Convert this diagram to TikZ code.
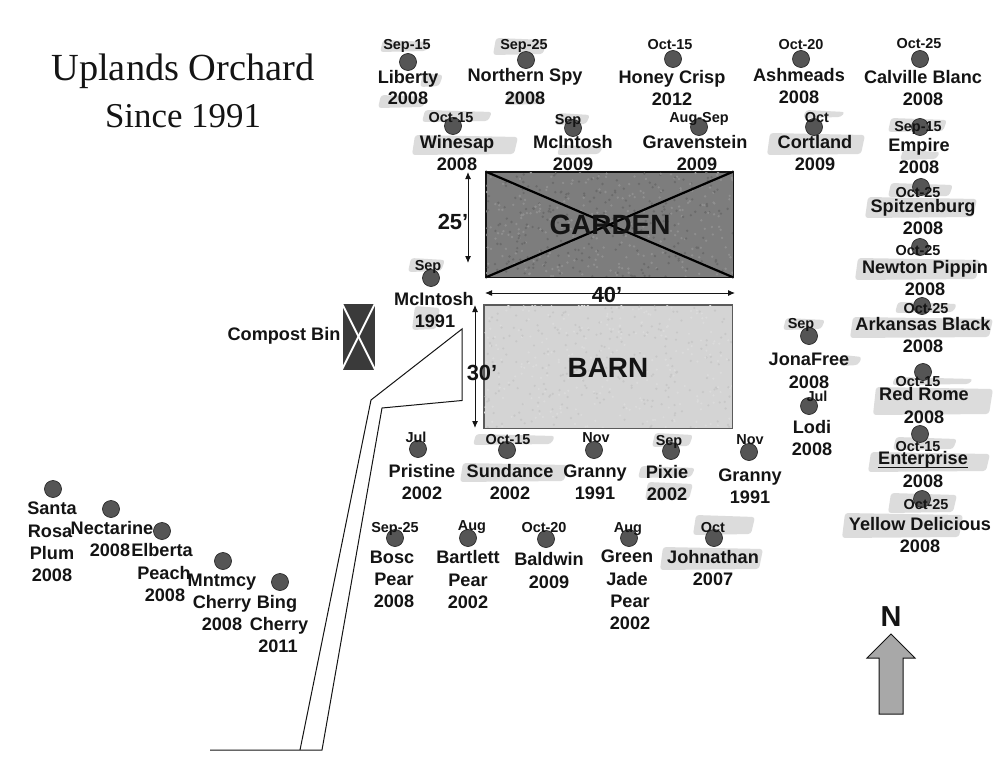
\documentclass[tikz,border=0pt]{standalone}
\usepackage{fontspec}
\setmainfont{Liberation Sans}
\newfontfamily\titlefont{Liberation Serif}
\usetikzlibrary{arrows.meta}
\definecolor{dotfill}{HTML}{555555}
\definecolor{dotline}{HTML}{2A2A2A}
\definecolor{ink}{HTML}{141414}
\definecolor{smudge}{HTML}{DCDCDC}
\definecolor{gardenfill}{HTML}{7D7D7D}
\definecolor{barnfill}{HTML}{D4D4D4}
\definecolor{binfill}{HTML}{3A3A3A}
\definecolor{northfill}{HTML}{A8A8A8}
\tikzset{
  treedot/.style={circle,draw=dotline,fill=dotfill,line width=0.7bp,minimum size=17bp,inner sep=0},
  datelabel/.style={font=\fontsize{14.5}{14.5}\selectfont\bfseries,text=ink,inner sep=0,text height=10.4bp,text depth=0bp},
  namelabel/.style={font=\fontsize{18.2}{18.2}\selectfont\bfseries,text=ink,inner sep=0,text height=13bp,text depth=0bp},
  biglabel/.style={font=\fontsize{28}{28}\selectfont\bfseries,text=ink,inner sep=0},
  northlabel/.style={font=\fontsize{29}{29}\selectfont\bfseries,text=ink,inner sep=0},
  dimlabel/.style={font=\fontsize{22}{22}\selectfont\bfseries,text=ink,inner sep=0},
  titlelabel/.style={font=\fontsize{38.5}{38.5}\selectfont\titlefont,text=ink,inner sep=0},
  subtitlelabel/.style={font=\fontsize{35}{35}\selectfont\titlefont,text=ink,inner sep=0},
  dimline/.style={draw=ink,line width=1bp,{Latex[length=7bp,width=6bp]}-{Latex[length=7bp,width=6bp]}},
  outline/.style={draw=ink,line width=1bp},
}
% \tree{id}{dot x}{dot y}{date x}{date y}{date}
\newcommand{\tree}[6]{%
  \node[treedot] (#1-dot) at (#2,#3) {};
  \node[datelabel] (#1-date) at (#4,#5) {#6};}
% \lab{id}{x}{y}{text}
\newcommand{\lab}[4]{\node[namelabel] (#1) at (#2,#3) {#4};}
\newcommand{\smear}[4]{\fill[smudge,rounded corners=3bp] (#1+3,#2) -- (#3,#2+2) -- (#3-4,#4-1) -- (#1,#4) -- cycle;}
\begin{document}
\begin{tikzpicture}[x=1bp,y=-1bp]
\useasboundingbox (0,0) rectangle (999,768);
\fill[white] (0,0) rectangle (999,768);

% smudges
\smear{380}{40}{430}{52}
\smear{493}{38}{547}{55}
\smear{420}{73}{443}{87}
\smear{378}{95}{427}{108}
\smear{505}{93}{545}{105}
\smear{422}{110}{492}{122}
\smear{412}{135}{518}{155}
\smear{555}{113}{590}{125}
\smear{557}{145}{603}{155}
\smear{803}{110}{845}{118}
\smear{767}{133}{865}{155}
\smear{888}{118}{947}{132}
\smear{900}{150}{940}{160}
\smear{888}{183}{953}{197}
\smear{865}{197}{977}{218}
\smear{855}{258}{980}{280}
\smear{895}{302}{957}{313}
\smear{850}{317}{993}{338}
\smear{783}{318}{825}{330}
\smear{840}{355}{862}{366}
\smear{892}{377}{973}{385}
\smear{873}{387}{993}{415}
\smear{893}{437}{957}{450}
\smear{868}{452}{990}{472}
\smear{888}{493}{957}{513}
\smear{842}{513}{963}{538}
\smear{473}{434}{555}{445}
\smear{460}{463}{568}{482}
\smear{652}{433}{693}{447}
\smear{638}{466}{695}{478}
\smear{645}{482}{693}{500}
\smear{693}{515}{755}{535}
\smear{660}{547}{763}{570}
\smear{408}{258}{445}{272}
\smear{412}{306}{440}{330}

% garden
\node[draw=ink,fill=gardenfill,line width=1bp,minimum width=247bp,minimum height=105bp,inner sep=0] (garden) at (609.5,224.5) {};
\begin{scope}
  \clip (garden.north west) rectangle (garden.south east);
  \pgfmathsetseed{7}
  \foreach \i in {1,...,500}{
    \pgfmathsetmacro{\px}{486+247*rnd}
    \pgfmathsetmacro{\py}{172+105*rnd}
    \pgfmathsetmacro{\pg}{rnd<0.5 ? 44 : 58}
    \fill[black!\pg] (\px,\py) circle[radius=1.3bp];
  }
\end{scope}
\draw[line width=2.2bp,black] (garden.north west) -- (garden.south east);
\draw[line width=2.2bp,black] (garden.north east) -- (garden.south west);
\draw[ink,line width=1bp] (garden.north west) rectangle (garden.south east);
\node[biglabel] (gardentext) at (610,225) {GARDEN};

% barn
\node[draw=ink!70,fill=barnfill,line width=1bp,minimum width=248bp,minimum height=123bp,inner sep=0] (barn) at (608,366.5) {};
\begin{scope}
  \clip (barn.north west) rectangle (barn.south east);
  \pgfmathsetseed{11}
  \foreach \i in {1,...,500}{
    \pgfmathsetmacro{\px}{484+248*rnd}
    \pgfmathsetmacro{\py}{305+123*rnd}
    \pgfmathsetmacro{\pg}{rnd<0.5 ? 14 : 22}
    \fill[black!\pg] (\px,\py) circle[radius=1.2bp];
  }
\end{scope}
\draw[ink!70,line width=1bp] (barn.north west) rectangle (barn.south east);
\node[biglabel] (barntext) at (608,368) {BARN};

% dimensions
\coordinate (d25a) at (468,172);
\coordinate (d25b) at (468,263);
\draw[dimline] (d25a) -- (d25b);
\node[dimlabel] (t25) at (453,222) {25’};
\coordinate (d40a) at (485,293);
\coordinate (d40b) at (735,293);
\draw[dimline] (d40a) -- (d40b);
\node[dimlabel] (t40) at (607,295) {40’};
\coordinate (d30a) at (475,305);
\coordinate (d30b) at (475,428);
\draw[dimline] (d30a) -- (d30b);
\node[dimlabel] (t30) at (482,373) {30’};

% compost bin
\node[draw=white,fill=binfill,line width=1bp,minimum width=33bp,minimum height=67bp,inner sep=0] (bin) at (358.5,336.5) {};
\draw[white,line width=1.8bp] (bin.north west) -- (bin.south east);
\draw[white,line width=1.8bp] (bin.north east) -- (bin.south west);
\node[namelabel] (bintext) at (284,334) {Compost Bin};

% driveway
\coordinate (w0) at (210,750);
\coordinate (w1) at (300,750);
\coordinate (w2) at (371,400);
\coordinate (w3) at (462,329);
\coordinate (w4) at (462,400.5);
\coordinate (w5) at (382,408);
\coordinate (w6) at (322,750);
\draw[outline] (w0) -- (w6) -- (w5) -- (w4) -- (w3) -- (w2) -- (w1);

% title
\node[titlelabel] (title1) at (183,71) {Uplands Orchard};
\node[subtitlelabel] (title2) at (183,116) {Since 1991};

% north arrow
\draw[draw=ink,fill=northfill,line width=1bp] (891,634) -- (915,658) -- (903,658) -- (903,714) -- (879,714) -- (879,658) -- (867,658) -- cycle;
\node[northlabel] (north) at (891,617) {N};

% row 1
\tree{a}{408}{62}{407}{44}{Sep-15} \lab{a1}{408}{77}{Liberty} \lab{a2}{408}{98}{2008}
\tree{b}{526}{60}{524}{44}{Sep-25} \lab{b1}{525}{75}{Northern Spy} \lab{b2}{525}{98}{2008}
\tree{c}{673}{59}{670}{44}{Oct-15} \lab{c1}{672}{77}{Honey Crisp} \lab{c2}{672}{99}{2012}
\tree{d}{801}{59}{801}{44}{Oct-20} \lab{d1}{799}{75}{Ashmeads} \lab{d2}{799}{97}{2008}
\tree{e}{920}{59}{919}{43}{Oct-25} \lab{e1}{923}{77}{Calville Blanc} \lab{e2}{923}{99}{2008}
% row 2
\tree{f}{453}{126}{451}{117}{Oct-15} \lab{f1}{457}{142}{Winesap} \lab{f2}{457}{164}{2008}
\tree{g}{573}{128}{568}{119}{Sep} \lab{g1}{573}{142}{McIntosh} \lab{g2}{573}{164}{2009}
\tree{h}{699}{127}{699}{117}{Aug-Sep} \lab{h1}{695}{142}{Gravenstein} \lab{h2}{697}{164}{2009}
\tree{i}{814}{127}{817}{117}{Oct} \lab{i1}{815}{142}{Cortland} \lab{i2}{815}{164}{2009}
% east column
\tree{j}{920}{127}{918}{126}{Sep-15} \lab{j1}{919}{145}{Empire} \lab{j2}{919}{167}{2008}
\tree{k}{921}{187}{918}{192}{Oct-25} \lab{k1}{923}{206}{Spitzenburg} \lab{k2}{923}{228}{2008}
\tree{l}{920}{247}{918}{250}{Oct-25} \lab{l1}{925}{267}{Newton Pippin} \lab{l2}{925}{289}{2008}
\tree{m}{922}{306}{926}{308}{Oct-25} \lab{m1}{923}{324}{Arkansas Black} \lab{m2}{923}{346}{2008}
\tree{n}{923}{372}{918}{381}{Oct-15} \lab{n1}{924}{394}{Red Rome} \lab{n2}{924}{417}{2008}
\tree{o}{920}{434}{918}{446}{Oct-15} \lab{o1}{923}{458}{Enterprise} \lab{o2}{923}{481}{2008}
\draw[ink,line width=1bp] ([yshift=-3bp]o1.south west) -- ([yshift=-3bp]o1.south east);
\tree{p}{922}{499}{926}{504}{Oct-25} \lab{p1}{920}{524}{Yellow Delicious} \lab{p2}{920}{546}{2008}
% middle
\tree{q}{431}{278}{428}{265}{Sep} \lab{q1}{434}{299}{McIntosh} \lab{q2}{435}{321}{1991}
\tree{r}{809}{336}{801}{323}{Sep} \lab{r1}{809}{359}{JonaFree} \lab{r2}{809}{382}{2008}
\tree{s}{809}{406}{817}{396}{Jul} \lab{s1}{812}{427}{Lodi} \lab{s2}{812}{449}{2008}
% south row 1
\tree{t}{418}{449}{416}{437}{Jul} \lab{t1}{422}{471}{Pristine} \lab{t2}{422}{493}{2002}
\tree{u}{507}{450}{508}{439}{Oct-15} \lab{u1}{510}{471}{Sundance} \lab{u2}{510}{493}{2002}
\tree{v}{594}{450}{596}{437}{Nov} \lab{v1}{595}{471}{Granny} \lab{v2}{595}{493}{1991}
\tree{w}{671}{451}{669}{440}{Sep} \lab{w1}{667}{472}{Pixie} \lab{w2}{667}{494}{2002}
\tree{x}{749}{452}{750}{439}{Nov} \lab{x1}{750}{475}{Granny} \lab{x2}{750}{497}{1991}
% south row 2
\tree{y}{395}{538}{395}{527}{Sep-25} \lab{y1}{392}{557}{Bosc} \lab{y2}{394}{579}{Pear} \lab{y3}{394}{601}{2008}
\tree{z}{468}{538}{472}{525}{Aug} \lab{z1}{468}{557}{Bartlett} \lab{z2}{468}{580}{Pear} \lab{z3}{468}{602}{2002}
\tree{aa}{546}{539}{544}{527}{Oct-20} \lab{aa1}{549}{559}{Baldwin} \lab{aa2}{549}{582}{2009}
\tree{ab}{629}{538}{628}{527}{Aug} \lab{ab1}{627}{556}{Green} \lab{ab2}{627}{579}{Jade} \lab{ab3}{630}{601}{Pear} \lab{ab4}{630}{623}{2002}
\tree{ac}{714}{538}{713}{527}{Oct} \lab{ac1}{713}{557}{Johnathan} \lab{ac2}{713}{579}{2007}
% south-west
\node[treedot] (ad-dot) at (53,489) {}; \lab{ad1}{52}{508}{Santa} \lab{ad2}{50}{531}{Rosa} \lab{ad3}{52}{553}{Plum} \lab{ad4}{52}{575}{2008}
\node[treedot] (ae-dot) at (111,509) {}; \lab{ae1}{112}{528}{Nectarine} \lab{ae2}{110}{550}{2008}
\node[treedot] (af-dot) at (162,531) {}; \lab{af1}{162}{550}{Elberta} \lab{af2}{164}{573}{Peach} \lab{af3}{165}{595}{2008}
\node[treedot] (ag-dot) at (223,561) {}; \lab{ag1}{222}{580}{Mntmcy} \lab{ag2}{222}{602}{Cherry} \lab{ag3}{222}{624}{2008}
\node[treedot] (ah-dot) at (280,582) {}; \lab{ah1}{277}{602}{Bing} \lab{ah2}{279}{624}{Cherry} \lab{ah3}{278}{646}{2011}
\end{tikzpicture}
\end{document}
